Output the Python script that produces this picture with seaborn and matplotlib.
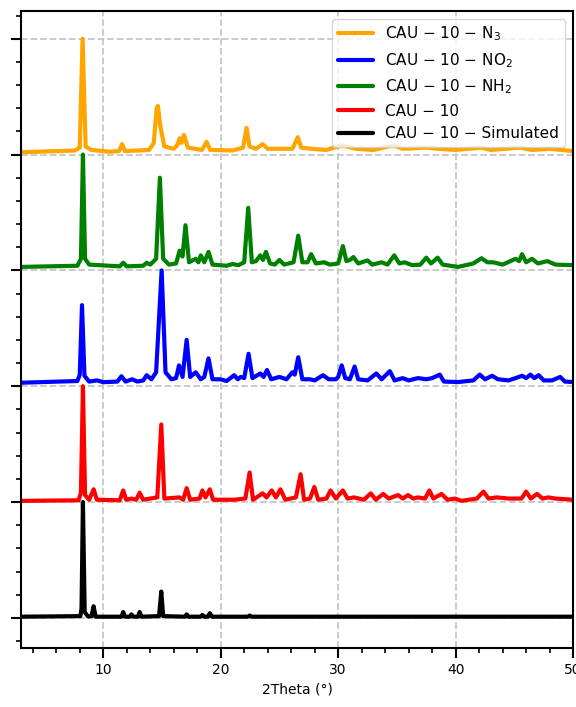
import numpy as np
import pandas as pd
import matplotlib
matplotlib.use('Agg')
import matplotlib.pyplot as plt
from matplotlib.ticker import MultipleLocator
import seaborn as sns

# XRD patterns (2theta, normalised intensity)
n3_x = [3.0, 7.6, 8.0, 8.24, 8.5, 9.0, 10.5, 11.35, 11.6, 11.85, 13.9, 14.3, 14.55, 14.65, 14.85,
        15.2, 16.0, 16.3, 16.5, 16.65, 16.87, 17.2, 18.4, 18.8, 19.1, 21.0, 21.9, 22.2, 22.45,
        23.0, 23.57, 24.0, 26.1, 26.56, 26.85, 27.7, 29.0, 30.3, 31.5, 33.0, 34.7, 35.5, 37.5,
        38.5, 40.0, 42.2, 43.0, 45.5, 46.5, 48.0, 50.0]
n3_y = [0.02, 0.035, 0.06, 1.0, 0.07, 0.04, 0.025, 0.03, 0.09, 0.03, 0.04, 0.10, 0.40, 0.42, 0.25,
        0.07, 0.05, 0.08, 0.14, 0.10, 0.17, 0.06, 0.04, 0.11, 0.04, 0.035, 0.06, 0.23, 0.07,
        0.05, 0.09, 0.05, 0.05, 0.15, 0.06, 0.05, 0.04, 0.08, 0.05, 0.04, 0.08, 0.05, 0.06,
        0.05, 0.04, 0.06, 0.04, 0.06, 0.04, 0.05, 0.03]

nh2_x = [3.0, 7.8, 8.1, 8.27, 8.45, 8.8, 11.4, 11.7, 12.0, 13.4, 13.7, 14.0, 14.5, 14.82, 15.1,
         15.6, 16.2, 16.5, 16.75, 17.0, 17.3, 17.87, 18.1, 18.3, 18.6, 18.96, 19.3, 20.5, 21.0,
         21.5, 22.0, 22.34, 22.65, 23.0, 23.37, 23.6, 23.85, 24.2, 24.6, 25.0, 25.4, 26.2, 26.6,
         26.95, 27.4, 27.7, 28.1, 28.8, 29.3, 30.0, 30.4, 30.7, 31.0, 31.3, 31.7, 32.5, 32.9,
         33.7, 34.2, 34.77, 35.2, 35.65, 36.3, 37.0, 37.5, 37.9, 38.47, 38.9, 40.2, 41.5, 42.2,
         42.7, 43.2, 44.0, 45.1, 45.4, 45.65, 46.0, 46.5, 47.0, 47.8, 48.5, 50.0]
nh2_y = [0.03, 0.04, 0.10, 1.0, 0.10, 0.05, 0.035, 0.066, 0.035, 0.04, 0.066, 0.05, 0.10, 0.80, 0.10,
         0.05, 0.06, 0.17, 0.12, 0.39, 0.07, 0.10, 0.07, 0.13, 0.07, 0.16, 0.05, 0.04, 0.055,
         0.045, 0.07, 0.54, 0.07, 0.08, 0.13, 0.09, 0.16, 0.06, 0.05, 0.09, 0.05, 0.07, 0.30,
         0.07, 0.07, 0.14, 0.06, 0.07, 0.05, 0.06, 0.21, 0.08, 0.09, 0.115, 0.06, 0.086, 0.05,
         0.07, 0.05, 0.13, 0.06, 0.07, 0.045, 0.05, 0.11, 0.06, 0.11, 0.05, 0.03, 0.06, 0.105,
         0.07, 0.07, 0.05, 0.10, 0.08, 0.14, 0.07, 0.10, 0.06, 0.08, 0.05, 0.045]

no2_x = [3.0, 7.8, 8.0, 8.19, 8.4, 8.8, 9.47, 10.0, 11.2, 11.55, 11.9, 12.46, 12.9, 13.4, 13.7,
         14.1, 14.5, 14.97, 15.3, 15.8, 16.2, 16.45, 16.75, 17.1, 17.4, 17.87, 18.3, 18.6, 18.96,
         19.3, 19.95, 20.5, 21.15, 21.45, 21.7, 22.0, 22.37, 22.7, 23.37, 23.65, 23.94, 24.3,
         25.0, 25.6, 26.1, 26.3, 26.6, 26.95, 27.6, 28.0, 28.7, 29.2, 29.8, 30.0, 30.3, 30.6,
         31.0, 31.4, 31.7, 32.5, 33.25, 33.7, 34.4, 34.8, 35.5, 36.0, 36.8, 37.5, 38.0, 38.65,
         39.0, 40.2, 41.5, 42.05, 42.5, 43.1, 43.6, 44.5, 45.1, 45.65, 46.0, 46.36, 46.7, 47.07,
         47.5, 48.2, 48.9, 49.3, 50.0]
no2_y = [0.03, 0.045, 0.10, 0.70, 0.09, 0.04, 0.05, 0.035, 0.04, 0.086, 0.04, 0.06, 0.04, 0.05, 0.095,
         0.06, 0.12, 1.0, 0.12, 0.06, 0.07, 0.18, 0.08, 0.40, 0.08, 0.12, 0.06, 0.08, 0.24,
         0.06, 0.06, 0.045, 0.095, 0.06, 0.08, 0.07, 0.28, 0.07, 0.11, 0.08, 0.14, 0.06,
         0.08, 0.06, 0.12, 0.10, 0.25, 0.06, 0.06, 0.05, 0.095, 0.06, 0.06, 0.08, 0.18, 0.07,
         0.06, 0.17, 0.06, 0.05, 0.11, 0.06, 0.13, 0.05, 0.07, 0.05, 0.07, 0.06, 0.07, 0.10,
         0.04, 0.036, 0.05, 0.10, 0.06, 0.09, 0.06, 0.05, 0.07, 0.09, 0.07, 0.10, 0.07, 0.095,
         0.05, 0.05, 0.08, 0.04, 0.036]

cau_x = [3.0, 7.9, 8.1, 8.27, 8.45, 8.8, 9.18, 9.45, 11.4, 11.7, 11.95, 12.4, 12.8, 13.1, 13.4,
         14.6, 14.94, 15.2, 16.5, 16.8, 17.1, 17.4, 18.2, 18.44, 18.7, 19.07, 19.35, 21.15, 22.1,
         22.46, 22.75, 23.57, 23.9, 24.34, 24.7, 25.08, 25.5, 26.4, 26.8, 27.1, 27.6, 27.97, 28.3,
         29.0, 29.35, 29.8, 30.4, 30.8, 31.35, 32.2, 32.77, 33.2, 33.83, 34.3, 35.1, 35.5, 35.95,
         36.4, 36.8, 37.4, 37.76, 38.1, 38.8, 39.3, 39.95, 40.5, 41.8, 42.37, 42.8, 43.5, 44.5,
         45.6, 46.0, 46.4, 46.93, 47.4, 47.9, 48.5, 50.0]
cau_y = [0.01, 0.015, 0.08, 1.0, 0.06, 0.02, 0.11, 0.02, 0.015, 0.10, 0.02, 0.03, 0.02, 0.08, 0.02,
         0.04, 0.67, 0.03, 0.04, 0.02, 0.12, 0.02, 0.03, 0.10, 0.04, 0.11, 0.02, 0.02, 0.03,
         0.255, 0.02, 0.075, 0.04, 0.10, 0.04, 0.11, 0.02, 0.04, 0.24, 0.02, 0.03, 0.13, 0.02,
         0.03, 0.10, 0.03, 0.10, 0.03, 0.04, 0.02, 0.075, 0.02, 0.07, 0.03, 0.06, 0.03, 0.06,
         0.03, 0.04, 0.03, 0.10, 0.03, 0.07, 0.02, 0.03, 0.01, 0.03, 0.09, 0.03, 0.04, 0.03,
         0.03, 0.09, 0.03, 0.07, 0.03, 0.04, 0.03, 0.02]

sim_x = [3.0, 8.05, 8.15, 8.27, 8.42, 8.7, 9.0, 9.18, 9.35, 11.55, 11.7, 11.85, 12.25, 12.4, 12.55,
         12.95, 13.1, 13.25, 14.75, 14.94, 15.1, 16.95, 17.1, 17.25, 18.3, 18.44, 18.6, 18.9,
         19.07, 19.25, 22.3, 22.46, 22.6, 50.0]
sim_y = [0.01, 0.015, 0.08, 1.0, 0.05, 0.012, 0.015, 0.10, 0.01, 0.01, 0.05, 0.01, 0.01, 0.03, 0.01,
         0.01, 0.05, 0.01, 0.015, 0.227, 0.015, 0.01, 0.03, 0.01, 0.01, 0.025, 0.01, 0.01,
         0.04, 0.01, 0.01, 0.02, 0.01, 0.01]

labels = ['CAU − 10 − N$_3$', 'CAU − 10 − NO$_2$', 'CAU − 10 − NH$_2$',
          'CAU − 10', 'CAU − 10 − Simulated']
colors = ['orange', 'blue', 'green', 'red', 'black']
offsets = [4, 2, 3, 1, 0]
patterns = [(n3_x, n3_y), (no2_x, no2_y), (nh2_x, nh2_y), (cau_x, cau_y), (sim_x, sim_y)]

sns.set_style('ticks')
plt.rcParams['font.family'] = ['DejaVu Sans']
plt.rcParams['mathtext.default'] = 'regular'
for k in ['text.color', 'axes.labelcolor', 'xtick.color', 'ytick.color', 'axes.edgecolor']:
    plt.rcParams[k] = 'black'

fig = plt.figure(figsize=(5.76, 7.07), dpi=100)
ax = fig.add_axes([0.0365, 0.0835, 0.9585, 0.901])

for (xs, ys), lab, col, off in zip(patterns, labels, colors, offsets):
    df = pd.DataFrame({'2theta': xs, 'intensity': np.array(ys) + off})
    sns.lineplot(data=df, x='2theta', y='intensity', color=col, lw=3, label=lab, ax=ax,
                 solid_joinstyle='round', solid_capstyle='round')

ax.set_xlim(3, 50)
ax.set_ylim(-0.26, 5.24)
ax.xaxis.set_major_locator(MultipleLocator(10))
ax.xaxis.set_minor_locator(MultipleLocator(2))
ax.yaxis.set_major_locator(MultipleLocator(1))
ax.yaxis.set_minor_locator(MultipleLocator(0.2))
ax.set_yticklabels([])
ax.tick_params(which='major', length=7, width=1.5, labelsize=10)
ax.tick_params(which='minor', length=3.5, width=1.2)
for sp in ax.spines.values():
    sp.set_linewidth(1.5)
ax.grid(True, which='major', ls='--', color='0.78', lw=1.3)
ax.set_axisbelow(True)
ax.set_xlabel('2Theta (°)', fontsize=10)
ax.set_ylabel('')
ax.legend(loc='upper right', fontsize=11, handlelength=2.3, labelspacing=0.5)

fig.savefig('out.png', dpi=100)
